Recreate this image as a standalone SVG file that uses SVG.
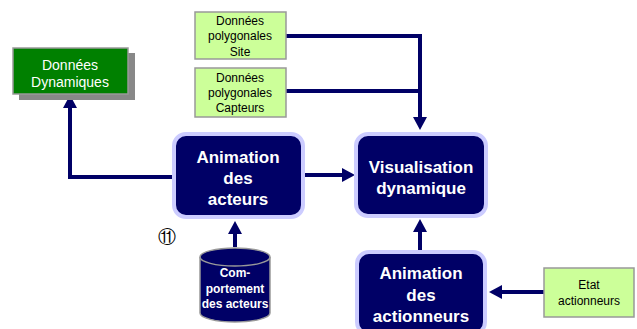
<svg xmlns="http://www.w3.org/2000/svg" width="637" height="329" viewBox="0 0 637 329">
<defs>
<style>
.conn{fill:none;stroke:#000066;stroke-width:4}
.head{fill:#000066}
.big{fill:#000066;stroke:#CCCCFF;stroke-width:4}
.bt{font-family:"Liberation Sans",Arial,sans-serif;font-weight:bold;font-size:17px;fill:#fff;text-anchor:middle}
.lg{fill:#CCFF99;stroke:#999;stroke-width:1.5}
.st{font-family:"Liberation Sans",Arial,sans-serif;font-size:12px;fill:#000;text-anchor:middle}
.cy{font-family:"Liberation Sans",Arial,sans-serif;font-weight:bold;font-size:12px;fill:#fff;text-anchor:middle}
</style>
</defs>
<rect width="637" height="329" fill="#fff"/>
<g id="connectors">
<path class="conn" d="M172,177 H70 V108"/>
<polygon class="head" points="70,95 63,108 77,108"/>
<path class="conn" d="M286,36 H420 V117"/>
<path class="conn" d="M286,91 H420"/>
<polygon class="head" points="420,130 413,117 427,117"/>
<path class="conn" d="M305,175 H342"/>
<polygon class="head" points="355,175 342,168 342,182"/>
<path class="conn" d="M420,250 V232"/>
<polygon class="head" points="420,219 413,232 427,232"/>
<path class="conn" d="M235,247 V234"/>
<polygon class="head" points="235,221 228,234 242,234"/>
<path class="conn" d="M544,292 H502"/>
<polygon class="head" points="489,292 502,285 502,299"/>
</g>
<g id="donnees-dynamiques">
<rect x="19" y="53" width="116" height="47" fill="#888"/>
<rect x="13" y="48" width="115" height="46" fill="#008000" stroke="#999" stroke-width="1.5"/>
<text x="70" y="70" font-family="Liberation Sans,Arial,sans-serif" font-size="14" fill="#fff" text-anchor="middle">Données</text>
<text x="70" y="87" font-family="Liberation Sans,Arial,sans-serif" font-size="14" fill="#fff" text-anchor="middle">Dynamiques</text>
</g>
<g id="site">
<rect class="lg" x="195" y="12" width="91" height="47"/>
<text class="st" x="240" y="25">Données</text>
<text class="st" x="240" y="40">polygonales</text>
<text class="st" x="240" y="56">Site</text>
</g>
<g id="capteurs">
<rect class="lg" x="195" y="68" width="91" height="49"/>
<text class="st" x="240" y="82">Données</text>
<text class="st" x="240" y="97">polygonales</text>
<text class="st" x="240" y="112">Capteurs</text>
</g>
<g id="animation-acteurs">
<rect class="big" x="174" y="134" width="129" height="83" rx="12"/>
<text class="bt" x="238" y="163">Animation</text>
<text class="bt" x="238" y="184">des</text>
<text class="bt" x="238" y="205">acteurs</text>
</g>
<g id="visualisation">
<rect class="big" x="356" y="134" width="130" height="82" rx="12"/>
<text class="bt" x="421" y="173">Visualisation</text>
<text class="bt" x="421" y="194">dynamique</text>
</g>
<g id="animation-actionneurs">
<rect class="big" x="357" y="252" width="128" height="82" rx="12"/>
<text class="bt" x="421" y="279">Animation</text>
<text class="bt" x="421" y="301">des</text>
<text class="bt" x="421" y="322">actionneurs</text>
</g>
<g id="etat">
<rect class="lg" x="544" y="268" width="90" height="49"/>
<text class="st" x="589" y="289">Etat</text>
<text class="st" x="589" y="305">actionneurs</text>
</g>
<g id="comportement">
<path d="M200,257 V313 A35,9 0 0 0 270,313 V257" fill="#000066" stroke="#999" stroke-width="1.5"/>
<ellipse cx="235" cy="257" rx="35" ry="9" fill="#000066" stroke="#999" stroke-width="1.5"/>
<text class="cy" x="235" y="277">Com-</text>
<text class="cy" x="235" y="293">portement</text>
<text class="cy" x="235" y="308">des acteurs</text>
</g>
<text x="167" y="243" font-family="DejaVu Sans,sans-serif" font-size="18" fill="#000" text-anchor="middle">⑪</text>
</svg>
